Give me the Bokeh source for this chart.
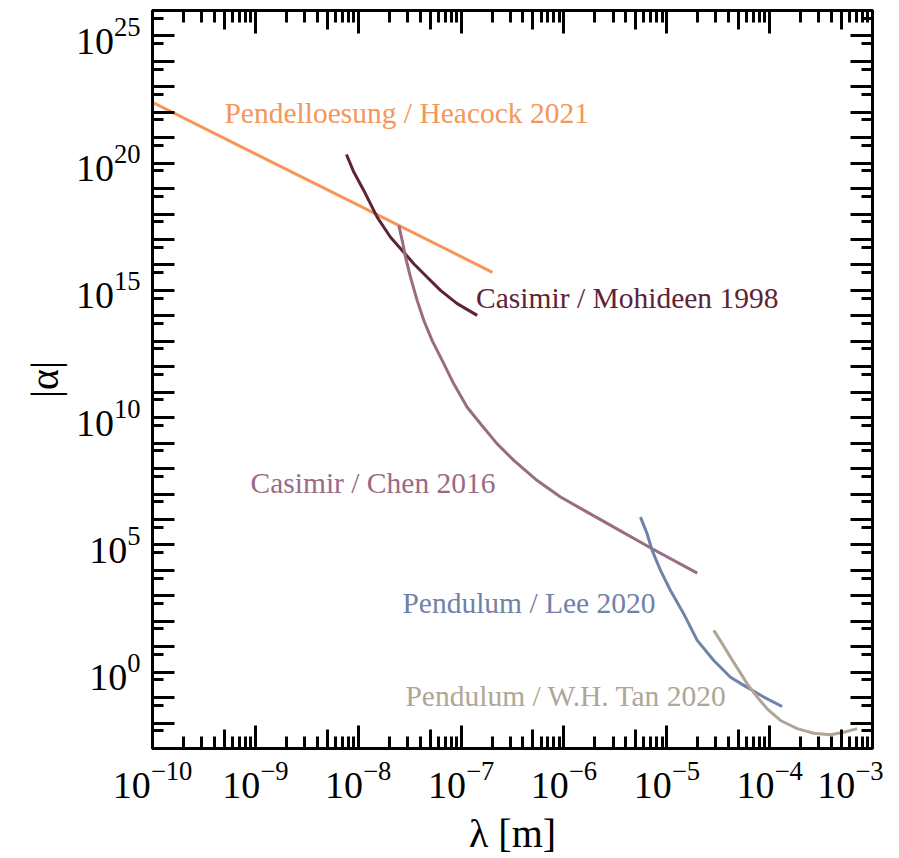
from bokeh.plotting import figure
from bokeh.models import Range1d, FixedTicker, LogAxis, Label
from bokeh.embed import file_html
from bokeh.resources import INLINE

# ---- data (lambda in m, |alpha|) ----
pend_lam = [1.0e-10, 1.0e-9, 1.0e-8, 1.0e-7, 2.02e-7]
pend_alpha = [2.45e22, 2.34e20, 2.24e18, 2.14e16, 5.13e15]

moh_lam = [7.69e-9, 9.06e-9, 1.132e-8, 1.528e-8, 2.061e-8, 2.679e-8, 3.467e-8,
           4.688e-8, 6.310e-8, 9.16e-8, 1.435e-7]
moh_alpha = [2.19e20, 4.47e19, 8.51e18, 7.59e17, 1.23e17, 3.72e16, 1.12e16,
             3.31e15, 1.0e15, 3.02e14, 1.05e14]

chen_lam = [2.483e-8, 2.679e-8, 2.884e-8, 3.221e-8, 3.741e-8, 4.345e-8, 5.236e-8,
            6.546e-8, 8.492e-8, 1.146e-7, 1.545e-7, 2.244e-7, 3.258e-7, 5.495e-7,
            9.268e-7, 1.683e-6, 3.055e-6, 7.211e-6, 1.977e-5]
chen_alpha = [3.55e17, 9.12e16, 2.04e16, 3.31e15, 4.07e14, 6.61e13, 1.07e13,
              1.78e12, 2.14e11, 2.57e10, 5.75e9, 9.33e8, 2.09e8, 3.39e7,
              7.59e6, 1.95e6, 5.01e5, 7.08e4, 7.76e3]

lee_lam = [5.55e-6, 6.44e-6, 7.21e-6, 8.69e-6, 1.086e-5, 1.462e-5, 1.977e-5,
           2.864e-5, 4.159e-5, 5.61e-5, 8.77e-5, 1.324e-4]
lee_alpha = [1.23e6, 2.75e5, 6.03e4, 1.0e4, 1.62e3, 195.0, 17.8,
             2.88, 0.631, 0.302, 0.105, 0.0447]

tan_lam = [2.864e-5, 3.459e-5, 4.159e-5, 5.012e-5, 6.053e-5, 7.568e-5, 9.462e-5,
           1.274e-4, 1.854e-4, 2.685e-4, 3.908e-4, 5.26e-4, 7.096e-4]
tan_alpha = [43.7, 13.2, 3.89, 1.17, 0.347, 0.105, 0.0363,
             0.0126, 0.00603, 0.00398, 0.00347, 0.00437, 0.00603]

series_names = ["Pendelloesung / Heacock 2021", "Casimir / Mohideen 1998",
                "Casimir / Chen 2016", "Pendulum / Lee 2020", "Pendulum / W.H. Tan 2020"]
series_colors = ["#F5965A", "#5E2334", "#9B6B84", "#7082AA", "#B0A696"]
# label anchor (left, baseline) in data coordinates
label_lam = [5.0e-10, 1.40e-7, 8.97e-10, 2.69e-8, 2.88e-8]
label_alpha = [9.8e21, 5.25e14, 2.82e7, 501.0, 0.112]

x_major = [10.0 ** k for k in range(-10, -2)]
x_mid = [5 * 10.0 ** k for k in range(-10, -3)]
x_minor = [m * 10.0 ** k for k in range(-10, -3) for m in (2, 3, 4, 6, 7, 8, 9)]
y_major = [10.0 ** k for k in range(-3, 27)]
y_minor = [5 * 10.0 ** k for k in range(-4, 26)]

FONT = "Liberation Serif"

p = figure(frame_width=720, frame_height=738, x_axis_type="log", y_axis_type="log",
           x_range=Range1d(1e-10, 1e-3), y_range=Range1d(1e-3, 1e26),
           output_backend="svg", toolbar_location=None,
           min_border_left=152, min_border_top=10, min_border_right=11, min_border_bottom=10)
p.xgrid.visible = False
p.ygrid.visible = False
p.outline_line_color = "black"
p.outline_line_width = 3

xt = FixedTicker(ticks=x_major, minor_ticks=x_minor)
xm = FixedTicker(ticks=x_mid, minor_ticks=[])
yt = FixedTicker(ticks=y_major, minor_ticks=y_minor)


def style_axis(ax, ticker, labels, major_len, minor_len):
    ax.ticker = ticker
    ax.axis_line_width = 3
    ax.axis_line_color = "black"
    ax.major_tick_in = major_len
    ax.major_tick_out = 0
    ax.minor_tick_in = minor_len
    ax.minor_tick_out = 0
    ax.major_tick_line_width = 3
    ax.minor_tick_line_width = 3
    ax.major_tick_line_color = "black"
    ax.minor_tick_line_color = "black"
    if labels:
        ax.major_label_text_font = FONT
        ax.major_label_text_font_size = "38px"
        ax.major_label_text_color = "black"
        ax.axis_label_text_font = FONT
        ax.axis_label_text_font_style = "normal"
        ax.axis_label_text_font_size = "40px"
        ax.axis_label_text_color = "black"
    else:
        ax.major_label_text_font_size = "1px"
        ax.major_label_text_alpha = 0
        ax.major_label_standoff = 0


style_axis(p.xaxis[0], xt, True, 23, 12)
style_axis(p.yaxis[0], yt, True, 22, 11)
p.xaxis[0].axis_label = "λ [m]"
p.yaxis[0].axis_label = "|α|"
p.xaxis[0].major_label_standoff = 13
p.yaxis[0].major_label_standoff = 12
p.xaxis[0].axis_label_standoff = 10
p.yaxis[0].axis_label_standoff = 6
p.yaxis[0].major_label_overrides = {v: " " for k, v in zip(range(-3, 27), y_major) if k % 5 != 0}

# medium ticks at 5 x 10^k on bottom and top (thin unlabeled axes next to the frame)
mid_bottom = LogAxis()
style_axis(mid_bottom, xm, False, 19, 0)
p.below = [mid_bottom] + list(p.below)

top = LogAxis()
style_axis(top, xt, False, 23, 12)
mid_top = LogAxis()
style_axis(mid_top, xm, False, 19, 0)
p.above = [mid_top, top]

right = LogAxis()
style_axis(right, yt, False, 22, 11)
p.add_layout(right, "right")

all_lam = [pend_lam, moh_lam, chen_lam, lee_lam, tan_lam]
all_alpha = [pend_alpha, moh_alpha, chen_alpha, lee_alpha, tan_alpha]
for lam, alpha, col in zip(all_lam, all_alpha, series_colors):
    p.line(lam, alpha, line_color=col, line_width=3, line_join="round")

for name, col, lx, ly in zip(series_names, series_colors, label_lam, label_alpha):
    p.add_layout(Label(x=lx, y=ly, text=name, text_color=col, text_font=FONT,
                       text_font_size="29.5px", text_align="left", text_baseline="alphabetic"))

open("out.html", "w").write(file_html(p, INLINE))
